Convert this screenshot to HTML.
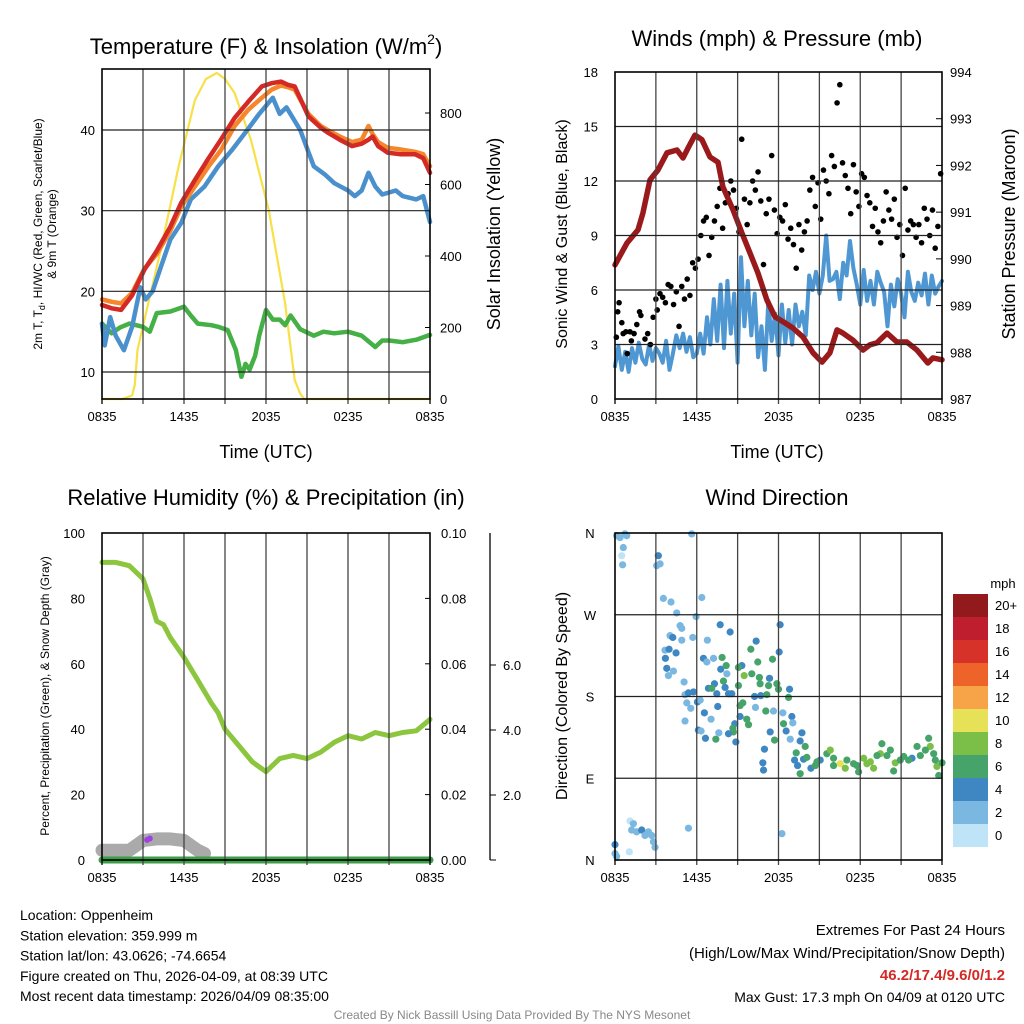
<!DOCTYPE html>
<html><head><meta charset="utf-8"><style>
body{margin:0;background:#fff}
svg{display:block;font-family:"Liberation Sans",Arial,sans-serif}
</style></head><body>
<svg id="s" width="1024" height="1024" viewBox="0 0 1024 1024" xmlns="http://www.w3.org/2000/svg"></svg>
<script>
// ---------- DATA ----------
const xTickLabels = ["0835","1435","2035","0235","0835"];
// Temperature panel (hours since 0835 UTC)
const redHours = [0,0.7,1.4,2.2,3.1,4.0,5.0,5.8,6.8,7.8,8.7,9.7,10.7,11.7,12.4,13.1,13.6,14.1,15.1,16.0,16.5,17.4,18.3,19.0,19.5,19.8,20.2,20.9,21.8,22.9,23.5,24];
const temp2m = [18.3,17.9,17.7,19.5,22.7,25.0,28.0,31.0,33.8,36.5,38.8,41.5,43.5,45.4,45.8,46.0,45.6,45.4,41.7,40.3,39.7,38.8,38.0,38.3,38.8,39.2,38.0,37.2,37.0,37.0,36.5,34.7];
const temp9m = [19.0,18.7,18.5,19.8,22.8,24.6,27.5,30.5,33.0,35.5,37.5,40.5,42.5,44.0,45.0,45.5,45.3,45.0,42.0,40.5,40.0,39.2,38.5,38.8,40.5,39.5,38.5,37.8,37.6,37.3,37.0,35.5];
const tHours = [0,0.2,0.6,1.0,1.6,2.2,2.8,3.2,3.7,4.3,5.0,5.8,6.5,7.5,8.5,9.5,10.5,11.5,12.5,13.0,13.5,14.5,15.5,16.3,17.0,18.0,18.5,19.0,19.5,20.0,20.5,21.5,22.0,23.0,23.5,24];
const heatIndexWC = [16,13.3,16.8,14.5,12.7,15.6,20.5,19.0,20.0,23.0,26.4,28.5,31.4,33.0,35.5,37.5,39.7,42.0,44.0,42.0,42.8,40.0,35.5,34.5,33.4,32.5,31.8,32.5,34.7,33.0,32.0,32.5,31.8,31.4,31.8,28.6];
const dewHours = [0,0.7,1.3,2,3,3.5,4,5,6,6.5,7,8,8.5,9.2,9.8,10.2,10.5,10.8,11.2,11.5,12,12.5,13,13.4,13.8,14.5,15.5,16.2,17,18,19,20,20.5,21,22,23,24];
const dewPoint = [16,14.8,15.5,16,15.6,15,17.3,17.5,18.1,17,16,15.8,15.6,15.2,12.7,9.4,11,10.3,12,14.5,17.7,16.5,16.5,15.8,17,15.3,14.5,15,14.8,15,14.5,13.1,13.9,13.9,13.7,14,14.6];
const solarHours = [0,1.5,2.2,2.4,2.6,3.1,4.35,5.6,6.8,7.6,8.4,9.0,9.7,10.9,12.2,13.4,14.1,14.5,14.8,24];
const solar = [0,0,10,40,137,221,425,649,836,895,912,895,856,724,529,268,53,15,0,0];
// Winds panel
const pHours = [0,0.88,1.69,2.05,2.57,3.15,3.82,4.55,4.99,5.36,5.87,6.38,6.97,7.56,7.92,8.66,9.32,9.9,10.49,11.15,11.74,12.47,13.06,13.79,14.53,15.19,15.77,16.29,16.73,17.46,18.2,18.71,19.22,19.96,20.69,21.42,22.16,22.96,23.33,24];
const pressure = [989.87,990.34,990.62,990.98,991.69,991.9,992.27,992.33,992.16,992.37,992.65,992.55,992.18,992.07,991.54,991.05,990.55,990.13,989.7,989.12,988.76,988.63,988.52,988.33,987.99,987.79,987.99,988.48,988.41,988.26,988.05,988.16,988.2,988.41,988.22,988.22,988.05,987.77,987.88,987.84];
const windSpeed = [1.8,2.9,1.6,2.6,1.5,2.8,2.0,3.1,2.2,
1.9,3.0,2.1,2.8,2.5,2.0,3.2,1.6, 2.5,3.5,2.8,3.6,2.6,3.4,2.3,2.5,
3.6,2.5,4.5,3.0,5.5,3.2,6.3,2.8, 6.5,3.6,5.8,2.0,7.8,4.0,6.5,3.5,
5.8,2.3,4.0,1.6,5.4,3.2,4.7,2.4, 5.2,3.1,4.9,3.0,5.2,4.0,4.8,3.5,
6.8,6.0,7.0,5.8,6.8,9.0,6.5,6.6, 7.0,5.5,7.5,6.8,8.7,7.2,6.3,5.2,
7.1,5.4,6.5,5.2,7.0,6.4,5.9,4.0, 6.3,5.1,6.6,5.8,4.5,7.0,5.9,5.4,
6.4,5.7,6.9,5.2,6.8,5.8,6.2,6.5];
const gustHours = [0.1,0.2,0.3,0.5,0.6,0.8,0.9,1.1,1.2,1.4,1.6,1.8,1.9,2.2,2.4,2.6,2.8,3.0,3.1,3.3,3.5,3.7,3.9,4.1,4.3,4.5,4.7,4.9,5.1,5.3,5.5,5.7,5.9,6.1,6.3,6.5,6.7,6.9,7.1,7.3,7.5,7.7,7.9,8.1,8.3,8.5,8.7,8.9,9.1,9.3,9.5,9.7,9.9,10.1,10.3,10.5,10.7,10.9,11.1,11.3,11.5,11.7,11.9,12.1,12.3,12.5,12.7,12.9,13.1,13.3,13.5,13.7,13.9,14.1,14.3,14.5,14.7,14.9,15.1,15.3,15.5,15.7,15.9,16.1,16.3,16.5,16.7,16.9,17.1,17.3,17.5,17.7,17.9,18.1,18.3,18.5,18.7,18.9,19.1,19.3,19.5,19.7,19.9,20.1,20.3,20.5,20.7,20.9,21.1,21.3,21.5,21.7,21.9,22.1,22.3,22.5,22.7,22.9,23.1,23.3,23.5,23.7,23.9];
const gusts = [3.4,4.8,5.3,4.2,3.6,3.7,2.5,3.7,3.2,3.6,4.1,4.8,4.6,3.3,3.6,3.0,4.5,5.5,4.9,5.8,5.6,5.3,6.3,6.2,5.2,5.9,4.0,6.2,5.5,6.6,5.7,7.5,7.2,7.7,9.0,9.8,10.0,7.9,8.9,9.8,10.6,11.6,9.4,10.8,11.3,12.0,11.5,10.5,9.2,14.3,11.0,9.6,10.8,12.0,11.5,12.5,10.9,7.4,10.2,11.0,13.4,10.4,9.1,10.0,9.8,10.7,8.8,9.4,8.5,7.2,9.6,8.2,9.2,9.8,11.5,12.2,10.6,11.9,9.9,12.6,12.0,11.3,13.4,12.8,16.3,17.3,13.0,12.3,11.6,10.2,12.9,11.4,10.6,12.4,12.2,11.2,10.8,9.5,10.5,9.2,8.6,9.8,11.4,10.4,9.9,11.0,8.9,9.6,7.9,11.6,9.3,9.8,9.6,8.9,9.6,8.6,10.5,9.9,9.0,10.4,8.3,9.5,12.4];
// RH panel
const rhHours = [0,1,2,3,3.5,4,4.5,5,6,7,8,8.5,9,10,11,12,12.5,13,14,15,16,17,18,19,20,21,22,23,24];
const rh = [91,91,90,86,80,73,72,68,62,55,48,45,40,35,30,27,29,31,32,31,33,36,38,37,39,38,39,39.5,43];
const snowHours = [0,1,2,2.5,3,4,5,6,6.5,7,7.5];
const snowDepth = [0.3,0.3,0.3,0.45,0.6,0.65,0.65,0.6,0.45,0.3,0.2];
const precipHours = [0,24];
const precip = [0,0];
// Wind direction panel: [hour, direction deg (0=N bottom), speed mph]
const dirHours = [0.12,0.37,0.73,0.86,0.61,0.49,0.56,5.63,3.18,3.31,3.06,3.55,4.11,6.37,4.53,5.95,4.78,4.9,4.04,4.24,4.9,5.71,6.78,7.72,8.45,12.12,3.67,3.97,4.48,3.7,3.8,4.29,3.92,5.07,6.49,7.23,6.74,7.86,8.16,7.76,8.21,9.31,9.06,10.36,9.97,11.56,12.05,10.48,9.48,10.04,10.6,11.34,10.65,11.27,11.88,12.0,12.81,12.74,9.06,7.96,7.3,6.86,7.1,7.47,8.08,8.33,8.57,10.24,10.7,11.14,5.14,5.39,5.76,6.05,5.27,5.56,6.25,6.56,7.54,9.18,9.38,10.31,11.07,11.63,12.32,12.98,13.05,9.18,9.67,9.8,8.79,8.65,8.69,8.33,8.87,5.14,6.12,6.32,6.64,7.4,7.62,7.05,11.39,11.71,12.37,12.56,12.86,13.72,13.59,13.96,13.3,13.18,13.84,14.08,10.97,10.85,10.9,13.4,13.59,14.38,14.7,15.06,15.55,15.8,16.04,16.53,16.9,17.51,17.88,18.25,18.49,18.98,19.47,19.59,20.21,20.57,20.45,21.19,21.8,22.17,23.02,23.14,23.39,23.63,24.0,23.76,14.82,16.04,17.02,17.76,18.74,19.23,19.96,20.94,21.55,22.41,22.78,23.51,1.1,1.35,1.22,1.59,1.96,2.2,2.45,2.69,2.82,2.94,1.05,0,0,0.12,5.39,12.25];
const dirDeg = [357,355,359,357,344,335,325,359,335,326,324,288,284,289,272,268,258,255,247,245,242,245,242,259,251,259,231,232,228,222,211,208,203,196,222,222,218,223,214,210,205,214,212,241,232,221,229,218,203,205,201,200,194,192,194,188,188,179,192,197,194,189,189,183,190,183,183,180,181,182,182,184,185,174,173,167,176,162,169,170,173,168,164,164,162,158,151,158,155,149,150,145,141,139,130,153,143,142,134,133,140,155,141,132,150,142,133,140,131,125,118,110,111,113,122,107,99,104,95,101,104,110,117,121,112,106,101,106,97,112,106,101,117,128,121,107,98,114,112,125,134,125,117,103,107,93,108,104,110,104,108,115,115,110,110,115,121,110,43,40,33,31,33,27,31,27,20,14,9,17,7,4,35,29];
const dirSpeed = [3,3,3,3,3,1.5,3,3,5,3,3,3,3,3,3,3,3,3,3,5,3,3,3,5,5,5,3,5,5,5,5,3,3,3,5,3,3,7,7,5,3,5,7,5,7,7,5,7,9,7,7,5,7,7,7,7,5,7,7,7,5,5,7,5,5,5,5,5,5,7,3,5,5,5,3,3,3,5,5,7,7,3,7,3,3,5,3,5,7,7,5,7,7,5,5,3,5,3,5,7,3,3,5,7,7,5,3,5,5,7,7,5,5,7,5,5,5,5,7,5,7,5,7,9,7,11,9,7,7,9,9,9,9,7,7,9,7,7,5,7,7,9,7,9,7,7,7,7,7,7,9,7,7,7,7,7,7,7,1.5,3,3,3,5,3,3,3,3,3,1.5,5,3,3,3,3];
const speedBinLabels = ["20+","18","16","14","12","10","8","6","4","2","0"];
const speedBinColors = ["#921a1d","#be1e2d","#d7322a","#ee6329","#f6a447","#e6e157","#7cbf48","#46a46a","#3f87c2","#7ab8e2","#bfe3f7"];

// ---------- HELPERS ----------
const NS="http://www.w3.org/2000/svg", S=document.getElementById('s');
function el(tag, at, parent){const e=document.createElementNS(NS,tag);for(const k in at)e.setAttribute(k,at[k]);(parent||S).appendChild(e);return e;}
function txt(str,x,y,size,anchor,extra){const e=el('text',Object.assign({x:x,y:y,'font-size':size,'text-anchor':anchor||'middle',fill:'#000'},extra||{}));e.textContent=str;return e;}
function lin(d0,d1,r0,r1){return v=>r0+(v-d0)/(d1-d0)*(r1-r0);}
function poly(xs,ys,fx,fy,stroke,w,name){const p=el('polyline',{points:xs.map((h,i)=>fx(h).toFixed(1)+','+fy(ys[i]).toFixed(1)).join(' '),fill:'none',stroke:stroke,'stroke-width':w,'stroke-linejoin':'round','stroke-linecap':'round'});


return p;}
function box(x0,y0,x1,y1,vgrid,hgridYs,fx){
  const g=el('g',{});
  for(let h=3;h<24;h+=3){el('line',{x1:fx(h),x2:fx(h),y1:y0,y2:y1+5,stroke:'#444','stroke-width':1.3},g);}
  hgridYs.forEach(y=>el('line',{x1:x0,x2:x1,y1:y,y2:y,stroke:'#222','stroke-width':1.2},g));
  [0,24].forEach(h=>el('line',{x1:fx(h),x2:fx(h),y1:y1,y2:y1+5,stroke:'#000','stroke-width':1.3},g));
  el('rect',{x:x0,y:y0,width:x1-x0,height:y1-y0,fill:'none',stroke:'#000','stroke-width':1.6},g);
  xTickLabels.forEach((l,i)=>txt(l,fx(i*6),y1+22,13));
  return g;
}

// ---------- PANEL 1: Temperature ----------
{
const X0=102,X1=430,Y0=69,Y1=399;
const fx=lin(0,24,X0,X1), fy=lin(10,40,372,130), fs=lin(0,800,399,113);
const leftTicks=[10,20,30,40], rightTicks=[0,200,400,600,800];
poly(solarHours,solar,fx,fs,'#f8e047',2.2,'solar-insolation-line');
poly(dewHours,dewPoint,fx,fy,'#45b045',4.5,'dewpoint-line');
poly(tHours,heatIndexWC,fx,fy,'#4a90cc',4.5,'heat-index-windchill-line');
poly(redHours,temp9m,fx,fy,'#f5862b',4.5,'temp-9m-line');
poly(redHours,temp2m,fx,fy,'#d42a26',4.5,'temp-2m-line');
box(X0,Y0,X1,Y1,true,leftTicks.map(fy),fx);
leftTicks.forEach(v=>txt(v,95,fy(v)+5,13,'end'));
rightTicks.forEach(v=>{el('line',{x1:X1,x2:X1-5,y1:fs(v),y2:fs(v),stroke:'#000'});txt(v,440,fs(v)+5,13,'start');});
const tt=txt('',266,54,22);

tt.innerHTML='Temperature (F) &amp; Insolation (W/m<tspan font-size="14" dy="-10">2</tspan><tspan dy="10">)</tspan>';
txt('Time (UTC)',266,458,18);
txt('Solar Insolation (Yellow)',0,0,18,'middle',{transform:'translate(500,234) rotate(-90)'});
const lt=txt('',0,0,12,'middle',{transform:'translate(42,234) rotate(-90)'});
lt.innerHTML='2m T, T<tspan font-size="9" dy="3">d</tspan><tspan dy="-3">, HI/WC (Red, Green, Scarlet/Blue)</tspan>';
txt('& 9m T (Orange)',0,0,12,'middle',{transform:'translate(56,234) rotate(-90)'});
}

// ---------- PANEL 2: Winds ----------
{
const X0=615,X1=942,Y0=72,Y1=399;
const fx=lin(0,24,X0,X1), fy=lin(0,18,Y1,Y0), fp=lin(987,994,Y1,Y0);
const leftTicks=[0,3,6,9,12,15,18], rightTicks=[987,988,989,990,991,992,993,994];
const sh=windSpeed.map((v,i)=>i*0.25);
poly(sh,windSpeed,fx,fy,'#4f97d2',4,'sonic-wind-line');
const gg=el('g',{});
gusts.forEach((v,i)=>{const c=el('circle',{cx:fx(gustHours[i]),cy:fy(v),r:2.8,fill:'#000'},gg);

});
poly(pHours,pressure,fx,fp,'#9a1a1c',5.5,'pressure-line');
box(X0,Y0,X1,Y1,true,[3,6,9,12,15].map(fy),fx);
leftTicks.forEach(v=>txt(v,598,fy(v)+5,13,'end'));
rightTicks.forEach(v=>{el('line',{x1:X1,x2:X1-6,y1:fp(v),y2:fp(v),stroke:'#000'});txt(v,950,fp(v)+5,13,'start');});
txt('Winds (mph) & Pressure (mb)',777,46,22);
txt('Time (UTC)',777,458,18);
txt('Sonic Wind & Gust (Blue, Black)',0,0,16,'middle',{transform:'translate(567,234) rotate(-90)'});
txt('Station Pressure (Maroon)',0,0,18,'middle',{transform:'translate(1015,234) rotate(-90)'});
}

// ---------- PANEL 3: RH ----------
{
const X0=102,X1=430,Y0=533,Y1=860;
const fx=lin(0,24,X0,X1), fy=lin(0,100,Y1,Y0), fpr=lin(0,0.1,Y1,Y0), fsn=lin(0,2,Y1,795);
const leftTicks=[0,20,40,60,80,100], rightTicks=[0,0.02,0.04,0.06,0.08,0.10], snowTicks=[2,4,6];
poly(snowHours,snowDepth,fx,fsn,'#aaaaaa',13,'snow-depth-line');
el('circle',{cx:fx(3.3),cy:fsn(0.62),r:3,fill:'#a040e0'});el('circle',{cx:fx(3.5),cy:fsn(0.66),r:3,fill:'#a040e0'});
poly(rhHours,rh,fx,fy,'#8cc63f',5,'relative-humidity-line');
poly(precipHours,precip,fx,fpr,'#3a9f48',7,'precipitation-line');
box(X0,Y0,X1,Y1,true,[],fx);
leftTicks.forEach(v=>txt(v,85,fy(v)+5,13,'end'));
rightTicks.forEach(v=>{el('line',{x1:X1,x2:X1-5,y1:fpr(v),y2:fpr(v),stroke:'#000'});txt(v.toFixed(2),441,fpr(v)+5,13,'start');});
el('line',{x1:490,x2:490,y1:533,y2:860,stroke:'#000','stroke-width':1.3});
snowTicks.forEach(v=>{el('line',{x1:490,x2:496,y1:fsn(v),y2:fsn(v),stroke:'#000'});txt(v.toFixed(1),503,fsn(v)+5,13,'start');});
el('line',{x1:490,x2:496,y1:860,y2:860,stroke:'#000'});
txt('Relative Humidity (%) & Precipitation (in)',266,505,22);
txt('Percent, Precipitation (Green), & Snow Depth (Gray)',0,0,12,'middle',{transform:'translate(49,696) rotate(-90)'});
}

// ---------- PANEL 4: Wind Direction ----------
{
const X0=615,X1=942,Y0=533,Y1=860;
const fx=lin(0,24,X0,X1), fy=lin(0,360,Y1,Y0);
const dirLabels=['N','E','S','W','N'];
function colorFor(s){const idx=Math.min(10,Math.floor(s/2));return speedBinColors[10-idx];}
const g=el('g',{});
dirHours.forEach((h,i)=>{const c=el('circle',{cx:fx(h),cy:fy(dirDeg[i]),r:3.6,fill:colorFor(dirSpeed[i])},g);

});
box(X0,Y0,X1,Y1,true,[90,180,270].map(fy),fx);
dirLabels.forEach((l,i)=>txt(l,590,fy(i*90)+5,13,'middle'));
txt('Wind Direction',777,505,22);
txt('Direction (Colored By Speed)',0,0,16,'middle',{transform:'translate(567,696) rotate(-90)'});
txt('mph',1003,588,13,'middle');
speedBinLabels.forEach((l,i)=>{const r=el('rect',{x:953,y:594+i*23,width:35,height:23,fill:speedBinColors[i]});


txt(l,995,594+i*23+16,13,'start');});
}

// ---------- FOOTER ----------
['Location: Oppenheim','Station elevation: 359.999 m','Station lat/lon: 43.0626; -74.6654','Figure created on Thu, 2026-04-09, at 08:39 UTC','Most recent data timestamp: 2026/04/09 08:35:00'].forEach((t,i)=>txt(t,20,920+i*20.3,14,'start'));
txt('Extremes For Past 24 Hours',1005,935,15,'end');
txt('(High/Low/Max Wind/Precipitation/Snow Depth)',1005,958,15,'end');
txt('46.2/17.4/9.6/0/1.2',1005,980,15,'end',{fill:'#d42a26','font-weight':'bold'});
txt('Max Gust: 17.3 mph On 04/09 at 0120 UTC',1005,1002,14,'end');
txt('Created By Nick Bassill Using Data Provided By The NYS Mesonet',512,1019,12,'middle',{fill:'#888'});
</script>
</body></html>
